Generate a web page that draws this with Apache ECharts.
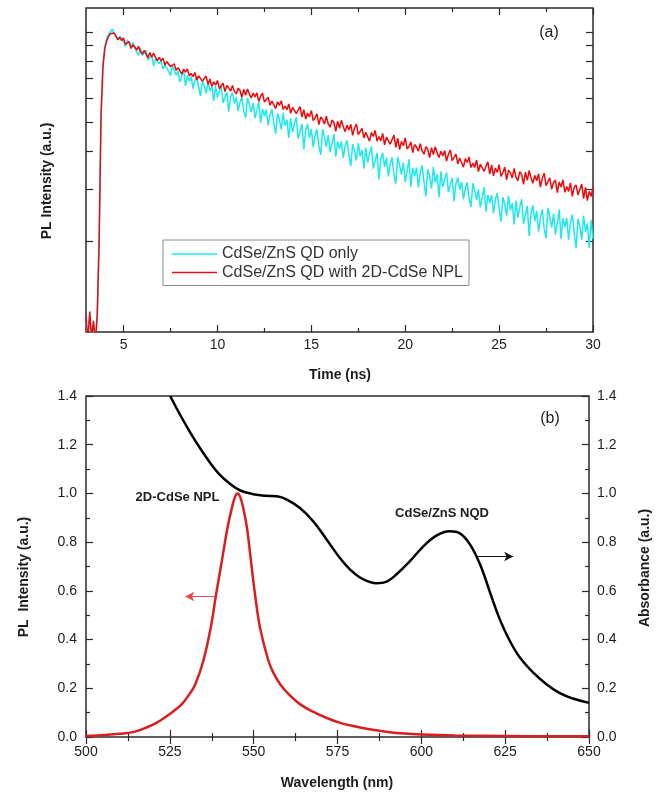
<!DOCTYPE html>
<html><head><meta charset="utf-8">
<script src="https://cdn.jsdelivr.net/npm/echarts@6/dist/echarts.min.js"></script>
<style>html,body{margin:0;padding:0;background:#fff}#c{width:663px;height:792px}</style>
</head><body><div id="c"></div>
<script>
// ---------- Panel (a): time-resolved PL (counts, log scale) ----------
const TIME_START_NS = 3.0;
const TIME_STEP_NS = 0.1;
const qdOnlyCounts = [
1080,960,1130,900,1060,940,1120,
2100,5300,7700,8900,9500,9800,10000,10200,9900,
9950,9430,9660,9740,9280,
8920,9400,9160,8830,9220,8800,8890,8350,8800,8350,
8530,8670,8070,8210,8360,7690,8110,8220,7830,8000,
7510,7740,7850,7390,7140,7700,7450,7170,7400,6810,
7110,7480,6600,7140,6840,7090,6460,6870,7080,6530,
6110,6860,6610,6230,6850,6350,6550,5880,6590,6040,
6340,6590,5790,6050,6300,5420,6050,6270,5760,6060,
5440,5820,6040,5460,5170,6020,5730,5400,5790,5160,
5470,5850,4980,5530,5240,5500,4880,5300,5520,4980,
4570,5340,5100,4730,5370,4870,5090,4430,5160,4620,
4930,5190,4400,4670,4930,4060,4700,4930,4430,4740,
4120,4520,4740,4170,3890,4740,4460,4140,4530,3970,
4230,4560,3840,4310,4080,4310,3800,4160,4350,3910,
3570,4220,4020,3720,4260,3850,4040,3500,4110,3670,
3920,4150,3500,3720,3950,3220,3760,3950,3550,3810,
3300,3630,3820,3340,3120,3830,3600,3340,3670,3160,
3430,3760,3050,3520,3300,3530,3030,3400,3590,3160,
2830,3480,3300,3000,3550,3150,3350,2810,3430,3040,
3230,3400,2920,3090,3260,2720,3120,3270,2970,3160,
2770,3010,3150,2790,2610,3130,2950,2750,2990,2600,
2800,3040,2510,2860,2690,2860,2490,2760,2900,2580,
2330,2810,2660,2440,2840,2540,2690,2280,2740,2410,
2600,2770,2290,2460,2630,2090,2490,2640,2340,2530,
2160,2410,2560,2210,2050,2590,2420,2230,2480,2110,
2310,2560,2040,2390,2230,2400,2030,2310,2460,2140,
1900,2380,2250,2030,2440,2150,2300,1900,2360,2040
];
const qdWithNplCounts = [
1120,940,1170,960,1090,920,1150,
2000,5200,7600,8800,9300,9650,9850,9950,9900,
9850,9400,9580,9350,9530,
9080,9140,9270,8800,9050,8900,8690,8940,8600,8430,
8670,8540,8190,8530,8230,8500,8220,8010,8210,8000,
8170,7740,7960,8080,7650,7640,7820,7440,7600,7630,
7230,7510,7340,7520,7130,7260,7090,7320,6900,7130,
7160,6850,6880,7120,6680,6960,6570,6810,6640,6880,
6470,6570,6740,6320,6620,6510,6340,6630,6330,6210,
6480,6380,6050,6430,6150,6450,6200,6020,6250,6070,
6260,5860,6100,6240,5840,5850,6050,5690,5880,5930,
5550,5840,5690,5890,5510,5660,5500,5750,5350,5600,
5640,5340,5380,5630,5200,5500,5120,5360,5210,5460,
5060,5160,5330,4910,5200,5100,4930,5230,4930,4810,
5080,4990,4660,5040,4770,5070,4830,4650,4880,4710,
4920,4520,4780,4930,4540,4570,4770,4430,4630,4690,
4320,4620,4480,4690,4320,4480,4330,4590,4200,4460,
4510,4220,4280,4530,4120,4420,4050,4310,4170,4430,
4070,4150,4300,3960,4210,4130,4000,4240,4010,3910,
4140,4060,3810,4110,3900,4140,3950,3810,4000,3860,
4020,3710,3910,4040,3720,3740,3910,3630,3800,3840,
3540,3780,3670,3830,3530,3650,3530,3740,3420,3620,
3670,3430,3480,3690,3360,3600,3310,3520,3400,3610,
3300,3390,3540,3210,3460,3390,3260,3510,3280,3190,
3420,3350,3100,3410,3200,3450,3260,3130,3320,3190,
3360,3040,3250,3380,3070,3090,3260,2990,3150,3200,
2910,3160,3040,3210,2920,3050,2940,3140,2830,3040,
3090,2860,2900,3110,2780,3030,2740,2940,2830,3040
];
const timeTicksMajor = [5, 10, 15, 20, 25, 30];
const timeTicksMinor = [7.5, 12.5, 17.5, 22.5, 27.5];
const countTicks = [2000, 3000, 4000, 5000, 6000, 7000, 8000, 9000, 10000];

// ---------- Panel (b): PL and absorbance spectra ----------
const nplWavelength = [500,505,510,514,518.2,521,523.6,526,528.6,530.8,532.6,535,537.2,538.8,540.5,542.2,543.5,544.4,545.2,546,546.9,548,549.2,550.4,551.9,554.4,556,557.9,560.5,563.8,567.5,571.8,575.8,580,585,590,595,600,610,625,650];
const nplPL = [0.004,0.008,0.013,0.02,0.04,0.058,0.081,0.105,0.135,0.175,0.217,0.313,0.449,0.586,0.722,0.859,0.94,0.985,1.0,0.985,0.94,0.859,0.722,0.586,0.449,0.313,0.26,0.217,0.175,0.135,0.105,0.078,0.058,0.044,0.031,0.021,0.014,0.01,0.006,0.004,0.003];
const nqdWavelength = [525.1,528.1,531.1,534,537,540,543,546,549.9,553.9,556.9,559.9,563.8,567.8,571.8,575.6,578.7,581.7,584.7,586.7,589.7,592.6,596.6,600.6,604.6,608.5,611.5,614.5,617.5,620.5,623.4,626.4,629.4,633.3,637.3,641.3,645.2,650];
const nqdAbs = [1.4,1.322,1.25,1.186,1.126,1.075,1.039,1.012,0.997,0.99,0.988,0.975,0.94,0.885,0.81,0.737,0.688,0.655,0.636,0.631,0.638,0.668,0.722,0.783,0.828,0.845,0.836,0.791,0.709,0.593,0.483,0.394,0.326,0.265,0.217,0.18,0.158,0.14];
const redArrow = [[538.5, 0.577], [529.6, 0.577]];
const blackArrow = [[616.5, 0.741], [627.4, 0.741]];

// ---------- build ----------
const FONT = 'Liberation Sans, Arial, Helvetica, sans-serif';
const TXT = '#1c1c1c';
const AX = '#2a2a2a';
function timeSeries(counts) {
  return counts.map((c, i) => [+(TIME_START_NS + i * TIME_STEP_NS).toFixed(2), c]);
}
function zipXY(xs, ys) { return xs.map((x, i) => [x, ys[i]]); }

const gridA = { left: 86, top: 8, width: 507, height: 324 };
const gridB = { left: 86, top: 396, width: 503, height: 341 };

function tickAxis(extra) {
  return Object.assign({
    axisLine: { show: false },
    splitLine: { show: false },
    axisTick: { show: true, inside: true, length: 7, lineStyle: { color: AX, width: 1.2 } },
    axisLabel: { show: false }
  }, extra);
}
const labelStyle = { fontFamily: FONT, fontSize: 14, color: TXT };
function txt(x, y, text, font, extra) {
  return Object.assign({ type: 'text', x: x, y: y, style: { text: text, font: font + ' ' + FONT, fill: TXT,
    align: 'center', verticalAlign: 'middle', textAlign: 'center', textVerticalAlign: 'middle' } }, extra || {});
}

const chart = echarts.init(document.getElementById('c'), null, { renderer: 'canvas' });
chart.setOption({
  animation: false,
  backgroundColor: '#fff',
  grid: [
    Object.assign({ show: true, borderColor: AX, borderWidth: 1.5, backgroundColor: 'transparent' }, gridA),
    Object.assign({ show: true, borderColor: AX, borderWidth: 1.5, backgroundColor: 'transparent' }, gridB),
    Object.assign({ show: false }, gridA)
  ],
  xAxis: [
    tickAxis({ gridIndex: 0, type: 'value', min: 3, max: 30, position: 'bottom',
      axisTick: { show: true, inside: true, length: 7, customValues: timeTicksMajor, lineStyle: { color: AX, width: 1.2 } },
      axisLabel: Object.assign({ show: true, margin: 6, customValues: timeTicksMajor }, labelStyle) }),
    tickAxis({ gridIndex: 0, type: 'value', min: 3, max: 30, position: 'top',
      axisTick: { show: true, inside: true, length: 7, customValues: timeTicksMajor, lineStyle: { color: AX, width: 1.2 } } }),
    tickAxis({ gridIndex: 1, type: 'value', min: 500, max: 650, interval: 25, position: 'bottom',
      minorTick: { show: true, splitNumber: 2, length: 4, lineStyle: { color: AX, width: 1.2 } },
      axisLabel: Object.assign({ show: true, margin: 8 }, labelStyle) }),
    tickAxis({ gridIndex: 1, type: 'value', min: 500, max: 650, interval: 25, position: 'top',
      minorTick: { show: true, splitNumber: 2, length: 4, lineStyle: { color: AX, width: 1.2 } } }),
    tickAxis({ gridIndex: 2, type: 'value', min: 3, max: 30, position: 'bottom',
      axisTick: { show: true, inside: true, length: 4, customValues: timeTicksMinor, lineStyle: { color: AX, width: 1.2 } } }),
    tickAxis({ gridIndex: 2, type: 'value', min: 3, max: 30, position: 'top',
      axisTick: { show: true, inside: true, length: 4, customValues: timeTicksMinor, lineStyle: { color: AX, width: 1.2 } } })
  ],
  yAxis: [
    tickAxis({ gridIndex: 0, type: 'log', logBase: 10, min: 1000, max: 12000, position: 'left',
      axisTick: { show: true, inside: true, length: 7, customValues: countTicks, lineStyle: { color: AX, width: 1.2 } } }),
    tickAxis({ gridIndex: 0, type: 'log', logBase: 10, min: 1000, max: 12000, position: 'right',
      axisTick: { show: true, inside: true, length: 7, customValues: countTicks, lineStyle: { color: AX, width: 1.2 } } }),
    tickAxis({ gridIndex: 1, type: 'value', min: 0, max: 1.4, interval: 0.2, position: 'left',
      minorTick: { show: true, splitNumber: 2, length: 4, lineStyle: { color: AX, width: 1.2 } },
      axisLabel: Object.assign({ show: true, margin: 9, formatter: v => v.toFixed(1) }, labelStyle) }),
    tickAxis({ gridIndex: 1, type: 'value', min: 0, max: 1.4, interval: 0.2, position: 'right',
      minorTick: { show: true, splitNumber: 2, length: 4, lineStyle: { color: AX, width: 1.2 } },
      axisLabel: Object.assign({ show: true, margin: 8, formatter: v => v.toFixed(1) }, labelStyle) }),
    { gridIndex: 2, type: 'value', min: 0, max: 1, show: false }
  ],
  legend: {
    data: [{ name: 'CdSe/ZnS QD only', icon: 'rect' }, { name: 'CdSe/ZnS QD with 2D-CdSe NPL', icon: 'rect' }],
    orient: 'vertical', left: 163, top: 240,
    padding: [6, 6, 5, 9], itemWidth: 45, itemHeight: 1.6, itemGap: 2.5,
    borderColor: '#8a8a8a', borderWidth: 1, backgroundColor: '#fff',
    textStyle: { fontFamily: FONT, fontSize: 16, color: '#333', lineHeight: 16 }
  },
  series: [
    { name: 'CdSe/ZnS QD only', type: 'line', xAxisIndex: 0, yAxisIndex: 0, data: timeSeries(qdOnlyCounts),
      symbol: 'none', clip: true, lineStyle: { color: '#1de9ec', width: 1.5 }, itemStyle: { color: '#1de9ec' }, z: 2 },
    { name: 'CdSe/ZnS QD with 2D-CdSe NPL', type: 'line', xAxisIndex: 0, yAxisIndex: 0, data: timeSeries(qdWithNplCounts),
      symbol: 'none', clip: true, lineStyle: { color: '#ee0a0a', width: 1.5 }, itemStyle: { color: '#e41414' }, z: 3 },
    { name: '2D-CdSe NPL', type: 'line', xAxisIndex: 2, yAxisIndex: 2, data: zipXY(nplWavelength, nplPL),
      symbol: 'none', smooth: 0.4, clip: true, lineStyle: { color: '#d81e1e', width: 2.5 },
      markLine: { silent: true, symbol: ['none', 'arrow'], symbolSize: [7, 9], label: { show: false },
        lineStyle: { color: '#e04a4a', width: 1, type: 'solid' },
        data: [[{ coord: redArrow[0] }, { coord: redArrow[1] }]] } },
    { name: 'CdSe/ZnS NQD', type: 'line', xAxisIndex: 2, yAxisIndex: 3, data: zipXY(nqdWavelength, nqdAbs),
      symbol: 'none', smooth: 0.4, clip: true, lineStyle: { color: '#000', width: 2.5 },
      markLine: { silent: true, symbol: ['none', 'arrow'], symbolSize: [7, 9], label: { show: false },
        lineStyle: { color: '#111', width: 1, type: 'solid' },
        data: [[{ coord: blackArrow[0] }, { coord: blackArrow[1] }]] } }
  ],
  graphic: [
    txt(549, 33, '(a)', '16px'),
    txt(550, 419, '(b)', '16px'),
    txt(340, 375, 'Time (ns)', 'bold 14px'),
    txt(47, 181, 'PL Intensity (a.u.)', 'bold 14px', { rotation: Math.PI / 2 }),
    txt(337, 783, 'Wavelength (nm)', 'bold 14px'),
    txt(24, 577, 'PL  Intensity (a.u.)', 'bold 14px', { rotation: Math.PI / 2 }),
    txt(645, 568, 'Absorbance (a.u.)', 'bold 14px', { rotation: Math.PI / 2 }),
    txt(177.5, 497, '2D-CdSe NPL', 'bold 13px'),
    txt(442, 513, 'CdSe/ZnS NQD', 'bold 13px')
  ]
});
</script>
</body></html>
